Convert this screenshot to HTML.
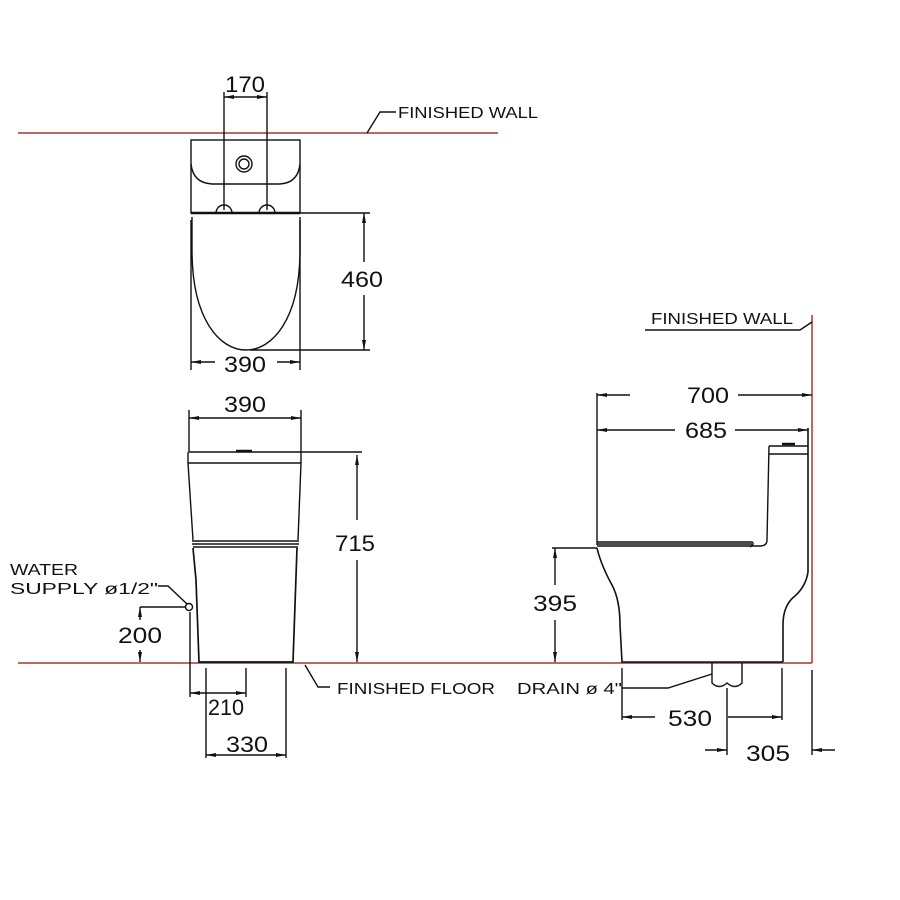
<!DOCTYPE html>
<html><head><meta charset="utf-8"><style>
html,body{margin:0;padding:0;background:#fff;width:900px;height:900px;overflow:hidden}
text{font-family:"Liberation Sans",sans-serif;fill:#111}
</style></head><body>
<svg width="900" height="900" viewBox="0 0 900 900" xmlns="http://www.w3.org/2000/svg">
<defs>
<marker id="a" viewBox="0 0 10 6" refX="10" refY="3" markerWidth="10" markerHeight="6" markerUnits="userSpaceOnUse" orient="auto-start-reverse"><path d="M0,1 L10,3 L0,5z" fill="#111"/></marker>
</defs>
<g stroke="#a33" stroke-width="1.5" fill="none">
<line x1="18" y1="133" x2="498" y2="133"/>
<line x1="18" y1="663" x2="812" y2="663"/>
<line x1="812" y1="315" x2="812" y2="663"/>
</g>
<g stroke="#111" stroke-width="1.4" fill="none">
<polyline points="396,112 380,112 367,133"/>
<rect x="191" y="140" width="109" height="73"/>
<path d="M191,164 Q193,183 212,184 L280,184 Q298,183 300,164"/>
<circle cx="244" cy="164" r="8"/><circle cx="244" cy="164" r="5"/>
<path d="M216,213 A8,8 0 0 1 232,213"/><path d="M259,213 A8,8 0 0 1 275,213"/>
<line x1="191" y1="213" x2="300" y2="213" stroke-width="2.4"/>
<path d="M192,217 L192,250 C192,320 220,350 246,350 C272,350 300,320 300,250 L300,217"/>
<line x1="224" y1="92" x2="224" y2="210"/><line x1="267" y1="92" x2="267" y2="210"/>
<line x1="224" y1="97" x2="267" y2="97" marker-start="url(#a)" marker-end="url(#a)"/>
<line x1="300" y1="213" x2="370" y2="213"/><line x1="250" y1="350" x2="370" y2="350"/>
<line x1="364" y1="213" x2="364" y2="262" marker-start="url(#a)"/>
<line x1="364" y1="295" x2="364" y2="350" marker-end="url(#a)"/>
<line x1="191" y1="220" x2="191" y2="370"/><line x1="300" y1="220" x2="300" y2="370"/>
<line x1="191" y1="362" x2="215" y2="362" marker-start="url(#a)"/>
<line x1="277" y1="362" x2="300" y2="362" marker-end="url(#a)"/>
<line x1="189" y1="410" x2="189" y2="452"/><line x1="301" y1="410" x2="301" y2="452"/>
<line x1="189" y1="418" x2="301" y2="418" marker-start="url(#a)" marker-end="url(#a)"/>
<line x1="189" y1="452" x2="362" y2="452"/>
<line x1="236" y1="451" x2="252" y2="451" stroke-width="2.5"/>
<line x1="188" y1="463" x2="301" y2="463"/>
<path d="M188,452 L188,463 L193,540 M301,452 L301,463 L298,540"/>
<line x1="192" y1="541" x2="299" y2="541"/><line x1="192" y1="544" x2="299" y2="544"/><line x1="193" y1="547" x2="298" y2="547"/>
<path d="M193,548 L196,580 L199,662 L293,662 L297,548" stroke-width="1.7"/>
<line x1="357" y1="455" x2="357" y2="520" marker-start="url(#a)"/>
<line x1="357" y1="560" x2="357" y2="662" marker-end="url(#a)"/>
<polyline points="158,586 168,586 187,604"/>
<circle cx="189" cy="607" r="3.5" fill="#fff"/>
<line x1="140" y1="607" x2="186" y2="607"/>
<line x1="140" y1="607" x2="140" y2="620" marker-start="url(#a)"/>
<line x1="140" y1="650" x2="140" y2="662" marker-end="url(#a)"/>
<line x1="190" y1="612" x2="190" y2="697"/>
<line x1="206" y1="668" x2="206" y2="758"/><line x1="246" y1="668" x2="246" y2="697"/><line x1="286" y1="668" x2="286" y2="758"/>
<line x1="190" y1="693" x2="246" y2="693" marker-start="url(#a)" marker-end="url(#a)"/>
<line x1="206" y1="755" x2="286" y2="755" marker-start="url(#a)" marker-end="url(#a)"/>
<polyline points="305,665 318,687 330,687"/>
<polyline points="645,330 800,330 812,322"/>
<line x1="597" y1="393" x2="597" y2="545"/>
<line x1="597" y1="395" x2="630" y2="395" marker-start="url(#a)"/>
<line x1="738" y1="395" x2="812" y2="395" marker-end="url(#a)"/>
<line x1="597" y1="430" x2="675" y2="430" marker-start="url(#a)"/>
<line x1="735" y1="430" x2="808" y2="430" marker-end="url(#a)"/>
<path d="M808,428 L808,572 Q806,586 795,596 Q783,605 783,625 L783,662" stroke-width="1.6"/>
<path d="M769,446 L808,446 M769,454 L808,454 M769,446 L767,540 Q767,546 760,546 L597,546"/>
<line x1="782" y1="444" x2="795" y2="444" stroke-width="2.5"/>
<path d="M597,542 L752,542 Q755,544 750,547 M597,544 L752,544"/>
<path d="M597,548 Q601,565 612,585 Q620,600 620,625 L622,662 L783,662" stroke-width="1.6"/>
<line x1="552" y1="548" x2="597" y2="548"/>
<line x1="555" y1="548" x2="555" y2="585" marker-start="url(#a)"/>
<line x1="555" y1="620" x2="555" y2="662" marker-end="url(#a)"/>
<path d="M712,663 L712,683 Q719,690 727,683 Q735,690 742,683 L742,663"/>
<polyline points="712,674 668,688 622,688"/>
<line x1="622" y1="668" x2="622" y2="720"/><line x1="782" y1="668" x2="782" y2="720"/>
<line x1="622" y1="717" x2="655" y2="717" marker-start="url(#a)"/>
<line x1="728" y1="717" x2="782" y2="717" marker-end="url(#a)"/>
<line x1="727" y1="688" x2="727" y2="755"/>
<line x1="705" y1="750" x2="727" y2="750" marker-end="url(#a)"/>
<line x1="812" y1="670" x2="812" y2="755"/>
<line x1="835" y1="750" x2="812" y2="750" marker-end="url(#a)"/>
</g>
<g font-size="22" text-anchor="middle" lengthAdjust="spacingAndGlyphs">
<text x="245" y="92" textLength="40" lengthAdjust="spacingAndGlyphs">170</text>
<text x="362" y="287" textLength="42" lengthAdjust="spacingAndGlyphs">460</text>
<text x="245" y="372" textLength="42" lengthAdjust="spacingAndGlyphs">390</text>
<text x="245" y="412" textLength="42" lengthAdjust="spacingAndGlyphs">390</text>
<text x="355" y="551" textLength="40" lengthAdjust="spacingAndGlyphs">715</text>
<text x="140" y="643" textLength="44" lengthAdjust="spacingAndGlyphs">200</text>
<text x="226" y="715" textLength="36" lengthAdjust="spacingAndGlyphs">210</text>
<text x="247" y="752" textLength="42" lengthAdjust="spacingAndGlyphs">330</text>
<text x="708" y="403" textLength="42" lengthAdjust="spacingAndGlyphs">700</text>
<text x="706" y="438" textLength="42" lengthAdjust="spacingAndGlyphs">685</text>
<text x="555" y="611" textLength="44" lengthAdjust="spacingAndGlyphs">395</text>
<text x="690" y="726" textLength="44" lengthAdjust="spacingAndGlyphs">530</text>
<text x="768" y="761" textLength="44" lengthAdjust="spacingAndGlyphs">305</text>
</g>
<g font-size="16">
<text x="398" y="118" textLength="140" lengthAdjust="spacingAndGlyphs">FINISHED  WALL</text>
<text x="651" y="324" textLength="142" lengthAdjust="spacingAndGlyphs">FINISHED  WALL</text>
<text x="10" y="575" textLength="68" lengthAdjust="spacingAndGlyphs">WATER</text>
<text x="10" y="594" textLength="148" lengthAdjust="spacingAndGlyphs">SUPPLY ø1/2"</text>
<text x="337" y="694" textLength="158" lengthAdjust="spacingAndGlyphs">FINISHED  FLOOR</text>
<text x="517" y="694" textLength="105" lengthAdjust="spacingAndGlyphs">DRAIN ø 4"</text>
</g>
</svg>
</body></html>
